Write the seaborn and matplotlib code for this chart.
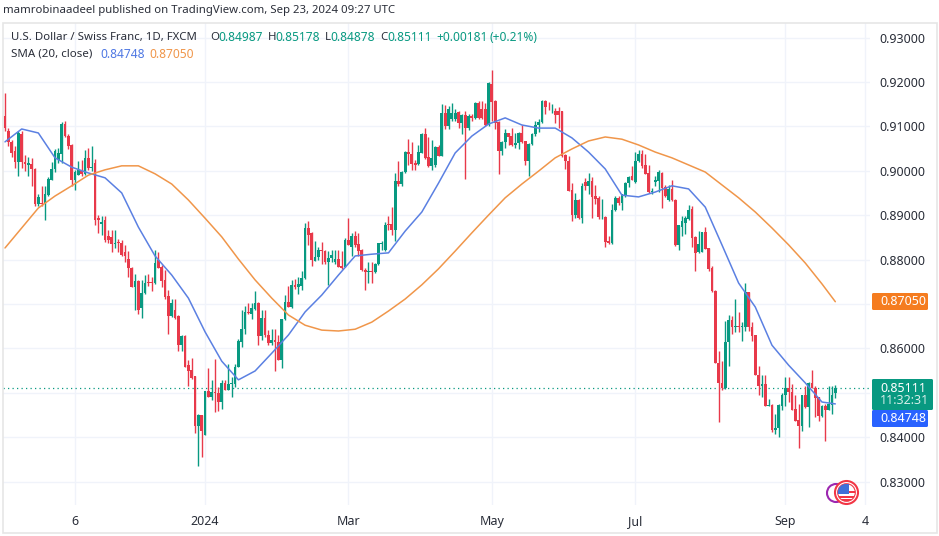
import matplotlib
matplotlib.use("Agg")
import matplotlib.pyplot as plt
from matplotlib.patches import Circle, FancyBboxPatch, Rectangle
import numpy as np
import pandas as pd
import seaborn as sns

# daily USD/CHF candles
opens = [
    .9124, .9090, .9064, .9044, .9019, .9083, .9020, .9013, .9015, .9003,
    .8925, .8928, .8925, .8945, .8980, .9003, .9025, .9037, .9106, .9079,
    .9057, .8978, .8990, .9002, .8993, .9029, .9005, .9017, .8893, .8880,
    .8888, .8852, .8850, .8836, .8838, .8838, .8816, .8802, .8781, .8738,
    .8751, .8690, .8725, .8750, .8748, .8746, .8800, .8783, .8753, .8717,
    .8672, .8687, .8673, .8607, .8627, .8562, .8552, .8537, .8424, .8449,
    .8405, .8503, .8490, .8502, .8500, .8479, .8522, .8505, .8519, .8520,
    .8559, .8614, .8644, .8682, .8678, .8689, .8702, .8627, .8669, .8631,
    .8611, .8618, .8614, .8574, .8666, .8704, .8694, .8742, .8737, .8740,
    .8758, .8871, .8859, .8797, .8805, .8822, .8820, .8795, .8803, .8794,
    .8801, .8785, .8784, .8843, .8828, .8852, .8834, .8821, .8776, .8771,
    .8775, .8771, .8790, .8835, .8822, .8880, .8880, .8866, .8976, .8971,
    .8996, .9042, .9038, .9018, .9016, .9040, .9082, .9030, .9011, .9012,
    .9054, .9034, .9129, .9101, .9116, .9116, .9132, .9107, .9125, .9097,
    .9123, .9119, .9152, .9140, .9140, .9102, .9195, .9157, .9110, .9044,
    .9064, .9084, .9078, .9057, .9063, .9084, .9066, .9021, .9060, .9082,
    .9103, .9110, .9158, .9144, .9134, .9135, .9135, .9134, .9035, .9021,
    .8957, .8901, .8935, .8893, .8974, .8965, .8976, .8942, .8938, .8895,
    .8896, .8841, .8837, .8912, .8939, .8927, .8944, .8972, .8987, .8974,
    .9022, .9038, .9012, .8995, .8952, .8975, .8977, .8995, .8963, .8933,
    .8959, .8935, .8832, .8874, .8882, .8892, .8913, .8850, .8817, .8818,
    .8862, .8826, .8781, .8730, .8566, .8521, .8511, .8614, .8664, .8649,
    .8651, .8647, .8649, .8726, .8649, .8629, .8539, .8515, .8520, .8471,
    .8473, .8415, .8421, .8471, .8494, .8511, .8501, .8464, .8439, .8426,
    .8494, .8467, .8521, .8511, .8490, .8447, .8471, .8461, .8473, .84987,
]
highs = [
    .9175, .9096, .9070, .9055, .9089, .9089, .9036, .9032, .9028, .9005,
    .8948, .8965, .8965, .8986, .9020, .9049, .9051, .9109, .9111, .9083,
    .9060, .9002, .9021, .9025, .9047, .9051, .9055, .9026, .8900, .8897,
    .8897, .8866, .8866, .8866, .8847, .8844, .8832, .8820, .8784, .8768,
    .8753, .8753, .8765, .8768, .8761, .8821, .8817, .8787, .8776, .8732,
    .8712, .8712, .8674, .8631, .8629, .8574, .8579, .8537, .8451, .8450,
    .8503, .8556, .8528, .8577, .8512, .8529, .8528, .8565, .8535, .8565,
    .8620, .8686, .8695, .8702, .8701, .8728, .8705, .8686, .8686, .8641,
    .8644, .8644, .8629, .8666, .8720, .8741, .8753, .8757, .8761, .8775,
    .8883, .8887, .8861, .8841, .8829, .8839, .8822, .8820, .8822, .8822,
    .8822, .8819, .8848, .8893, .8859, .8865, .8859, .8823, .8782, .8795,
    .8795, .8792, .8838, .8841, .8884, .8897, .8919, .8995, .9021, .8999,
    .9044, .9072, .9064, .9024, .9059, .9084, .9097, .9076, .9070, .9055,
    .9057, .9150, .9147, .9146, .9153, .9138, .9134, .9127, .9134, .9127,
    .9127, .9155, .9157, .9157, .9153, .9199, .9226, .9159, .9111, .9067,
    .9095, .9085, .9097, .9085, .9087, .9104, .9067, .9063, .9084, .9112,
    .9117, .9159, .9159, .9155, .9150, .9142, .9144, .9134, .9037, .9034,
    .8972, .8950, .8936, .8972, .8984, .8994, .8986, .8967, .8944, .8937,
    .8897, .8854, .8926, .8942, .8944, .8948, .8974, .8987, .9010, .9042,
    .9047, .9047, .9037, .9012, .8962, .8987, .9001, .8996, .8967, .8967,
    .8978, .8937, .8878, .8899, .8897, .8922, .8920, .8852, .8865, .8862,
    .8873, .8826, .8785, .8732, .8595, .8572, .8662, .8674, .8672, .8711,
    .8681, .8659, .8747, .8726, .8659, .8630, .8561, .8539, .8540, .8486,
    .8475, .8452, .8475, .8499, .8536, .8536, .8520, .8494, .8475, .8495,
    .8516, .8524, .8551, .8514, .8491, .8473, .8475, .8516, .8516, .85178,
]
lows = [
    .9089, .9055, .9032, .9006, .8987, .9005, .9000, .8987, .8965, .8920,
    .8920, .8920, .8890, .8942, .8978, .8997, .9017, .9017, .9075, .9050,
    .8966, .8956, .8990, .8987, .8990, .9002, .9000, .8878, .8860, .8855,
    .8840, .8837, .8817, .8825, .8817, .8807, .8795, .8761, .8738, .8686,
    .8678, .8669, .8723, .8740, .8729, .8744, .8780, .8738, .8712, .8633,
    .8671, .8667, .8594, .8594, .8558, .8514, .8532, .8409, .8334, .8356,
    .8405, .8490, .8483, .8456, .8459, .8464, .8505, .8505, .8490, .8513,
    .8558, .8603, .8633, .8678, .8667, .8686, .8607, .8618, .8626, .8607,
    .8607, .8550, .8573, .8556, .8663, .8692, .8690, .8734, .8723, .8731,
    .8755, .8833, .8786, .8797, .8799, .8790, .8790, .8743, .8795, .8790,
    .8783, .8778, .8783, .8833, .8807, .8829, .8807, .8775, .8731, .8746,
    .8748, .8769, .8788, .8822, .8820, .8867, .8856, .8841, .8966, .8966,
    .8994, .9014, .9001, .9001, .9014, .9039, .9027, .9009, .9001, .9009,
    .9033, .9033, .9093, .9093, .9112, .9112, .9097, .9082, .8981, .9091,
    .9112, .9116, .9117, .9117, .9101, .9101, .9112, .9095, .8992, .9036,
    .9052, .9059, .9055, .9052, .9049, .9063, .9014, .8989, .9057, .9079,
    .9087, .9108, .9127, .9137, .9131, .9107, .9097, .9031, .9003, .8954,
    .8886, .8893, .8891, .8883, .8956, .8948, .8893, .8926, .8892, .8892,
    .8828, .8834, .8835, .8909, .8922, .8912, .8941, .8963, .8978, .8973,
    .9020, .9005, .8992, .8950, .8948, .8965, .8952, .8917, .8941, .8932,
    .8932, .8830, .8822, .8854, .8858, .8890, .8828, .8775, .8815, .8816,
    .8823, .8775, .8727, .8566, .8434, .8505, .8509, .8561, .8632, .8636,
    .8636, .8616, .8640, .8640, .8616, .8539, .8494, .8490, .8469, .8469,
    .8411, .8407, .8401, .8460, .8470, .8479, .8460, .8436, .8375, .8413,
    .8466, .8422, .8511, .8445, .8436, .8445, .8391, .8460, .8451, .84878,
]
closes = [
    .9096, .9064, .9040, .9019, .9085, .9019, .9015, .9017, .9003, .8925,
    .8940, .8925, .8947, .8982, .9003, .9044, .9041, .9106, .9078, .9056,
    .8980, .8996, .9002, .8992, .9029, .9006, .9008, .8889, .8890, .8885,
    .8845, .8843, .8836, .8838, .8837, .8810, .8808, .8781, .8738, .8751,
    .8687, .8725, .8748, .8747, .8747, .8793, .8782, .8752, .8716, .8672,
    .8701, .8669, .8607, .8627, .8559, .8550, .8534, .8424, .8449, .8414,
    .8503, .8490, .8502, .8500, .8479, .8522, .8505, .8519, .8522, .8559,
    .8616, .8644, .8682, .8680, .8690, .8702, .8627, .8669, .8629, .8611,
    .8618, .8615, .8574, .8666, .8704, .8694, .8742, .8737, .8744, .8758,
    .8871, .8856, .8798, .8805, .8822, .8820, .8795, .8803, .8810, .8802,
    .8784, .8780, .8845, .8833, .8852, .8833, .8820, .8776, .8771, .8775,
    .8772, .8790, .8837, .8838, .8878, .8877, .8866, .8976, .8971, .8996,
    .9042, .9038, .9016, .9014, .9042, .9082, .9029, .9010, .9029, .9054,
    .9034, .9129, .9101, .9138, .9131, .9131, .9107, .9125, .9097, .9123,
    .9119, .9152, .9119, .9119, .9102, .9197, .9155, .9108, .9044, .9064,
    .9084, .9076, .9057, .9063, .9084, .9064, .9021, .9061, .9082, .9104,
    .9110, .9158, .9144, .9143, .9135, .9125, .9125, .9033, .9021, .8955,
    .8901, .8935, .8893, .8965, .8965, .8976, .8941, .8937, .8895, .8896,
    .8839, .8837, .8912, .8939, .8927, .8947, .8972, .8986, .8980, .9022,
    .9038, .9010, .8993, .8952, .8954, .8978, .8997, .8962, .8942, .8959,
    .8933, .8832, .8878, .8886, .8894, .8912, .8848, .8814, .8835, .8862,
    .8824, .8779, .8729, .8566, .8521, .8511, .8614, .8664, .8649, .8651,
    .8647, .8651, .8726, .8647, .8627, .8539, .8515, .8520, .8470, .8473,
    .8415, .8421, .8473, .8494, .8511, .8501, .8461, .8437, .8426, .8494,
    .8467, .8521, .8511, .8488, .8447, .8471, .8461, .8475, .8494, .85111,
]

# moving averages, read every 5 bars plus the last bar
sma_bars = list(range(0, 250, 5)) + [249]
sma_fast = [
    .9065, .9094, .9085, .9029, .9008, .8995, .8984, .8950, .8873, .8808,
    .8765, .8713, .8637, .8571, .8529, .8549, .8589, .8630, .8682, .8720,
    .8765, .8808, .8812, .8815, .8864, .8907, .8972, .9040, .9078, .9105,
    .9119, .9103, .9096, .9096, .9074, .9042, .9004, .8945, .8941, .8952,
    .8966, .8959, .8918, .8833, .8747, .8693, .8607, .8562, .8522, .8479,
    .84748,
]
sma_slow = [
    .8826, .8871, .8916, .8943, .8966, .8990, .9002, .9011, .9011, .8993,
    .8970, .8934, .8893, .8851, .8801, .8754, .8713, .8675, .8652, .8641,
    .8639, .8643, .8659, .8684, .8711, .8743, .8779, .8819, .8860, .8900,
    .8939, .8970, .8999, .9029, .9049, .9067, .9076, .9071, .9058, .9042,
    .9029, .9013, .8997, .8968, .8939, .8907, .8871, .8833, .8792, .8745,
    .87050,
]

price_ticks = [.83, .84, .85, .86, .87, .88, .89, .90, .91, .92, .93]
price_labels = ["0.83000", "0.84000", "", "0.86000", "", "0.88000", "0.89000",
                "0.90000", "0.91000", "0.92000", "0.93000"]
time_ticks = [21, 60, 103, 146, 189, 234, 258]
time_labels = ["6", "2024", "Mar", "May", "Jul", "Sep", "4"]

UP = "#089981"
DOWN = "#E8394A"
BLUE = "#5B80E2"
ORANGE = "#F0964A"
TEXT = "#2A2E39"

sns.set_theme(style="white")
plt.rcParams["font.family"] = ["Noto Sans", "DejaVu Sans"]

df = pd.DataFrame({"open": opens, "high": highs, "low": lows, "close": closes})
df["bar"] = np.arange(len(df))
df["color"] = np.where(df["close"] >= df["open"], UP, DOWN)
sma = pd.DataFrame({"bar": sma_bars, "fast": sma_fast, "slow": sma_slow})

W, H = 939, 536
fig = plt.figure(figsize=(W / 100, H / 100), dpi=100)
ax = fig.add_axes([3 / W, 1 - 505 / H, 867 / W, 482 / H])

ax.vlines(df["bar"], df["low"], df["high"], colors=df["color"], lw=1.0, zorder=3)
body = (df["close"] - df["open"]).abs().clip(lower=0.00015)
ax.bar(df["bar"], body, bottom=df[["open", "close"]].min(axis=1), width=0.82,
       color=df["color"], linewidth=0, zorder=3)
sns.lineplot(data=sma, x="bar", y="fast", color=BLUE, lw=1.1, ax=ax, zorder=4)
sns.lineplot(data=sma, x="bar", y="slow", color=ORANGE, lw=1.1, ax=ax, zorder=4)
ax.axhline(closes[-1], color=UP, lw=0.9, ls=(0, (1, 2.6)), zorder=2)

ax.set_xlim(-0.6, 259.4)
ax.set_ylim(.82471, .93327)
ax.set_xlabel("")
ax.set_ylabel("")
ax.yaxis.tick_right()
ax.set_yticks(price_ticks, price_labels)
ax.set_xticks(time_ticks, time_labels)
ax.tick_params(axis="y", length=0, pad=7, labelsize=9, labelcolor=TEXT)
ax.tick_params(axis="x", length=0, pad=7, labelsize=9, labelcolor=TEXT)
ax.get_xticklabels()[1].set_fontweight("bold")
ax.grid(True, color="#F0F3FA", lw=1)
ax.set_axisbelow(True)
sns.despine(ax=ax, left=True, right=True, top=True, bottom=True)

# overlay in pixel coordinates for the header, price boxes and logo
ov = fig.add_axes([0, 0, 1, 1], zorder=5)
ov.set_xlim(0, W)
ov.set_ylim(H, 0)
ov.axis("off")
ov.add_patch(Rectangle((2.5, 22.5), 934, 510, fill=False, ec="#E6E6E6", lw=1.2))

ov.text(3, 11, "mamrobinaadeel published on TradingView.com, Sep 23, 2024 09:27 UTC",
        fontsize=8.2, color=TEXT, va="center")
ov.text(11, 37.5, "U.S. Dollar / Swiss Franc, 1D, FXCM", fontsize=8.2, color=TEXT, va="center")
for key, key_x, val, val_x in [("O", 210, "0.84987", 218), ("H", 267.5, "0.85178", 275),
                               ("L", 325, "0.84878", 330.5), ("C", 380, "0.85111", 387)]:
    ov.text(key_x, 37.5, key, fontsize=8.2, color=TEXT, va="center")
    ov.text(val_x, 37.5, val, fontsize=8.6, color=UP, va="center")
ov.text(436.5, 37.5, "+0.00181", fontsize=8.6, color=UP, va="center")
ov.text(490, 37.5, "(+0.21%)", fontsize=8.6, color=UP, va="center")
ov.text(11, 54.5, "SMA (20, close)", fontsize=8.3, color=TEXT, va="center")
ov.text(100, 54.5, "0.84748", fontsize=8.6, color="#4F78E3", va="center")
ov.text(149, 54.5, "0.87050", fontsize=8.6, color=ORANGE, va="center")


def price_box(x0, y0, x1, y1, color):
    ov.add_patch(FancyBboxPatch((x0 + 1, y0 + 1), x1 - x0 - 2, y1 - y0 - 2,
                                boxstyle="round,pad=1,rounding_size=1.5",
                                fc=color, ec="none"))


price_box(872, 293, 928, 310, "#F57C1F")
price_box(872, 379, 933, 410, UP)
price_box(872, 410, 928, 427, "#2962FF")
ov.text(880, 301.5, "0.87050", color="white", fontsize=9, fontweight="bold", va="center")
ov.text(880, 388, "0.85111", color="white", fontsize=9, fontweight="bold", va="center")
ov.text(880, 401, "11:32:31", color="#D5EEE9", fontsize=9, va="center")
ov.text(880, 418.5, "0.84748", color="white", fontsize=9, fontweight="bold", va="center")

ov.add_patch(Circle((836, 493), 9, fc="white", ec="#9C27B0", lw=1.5))
ov.add_patch(Circle((846.5, 492.5), 11.5, fc="white", ec="#F23645", lw=1.5))
flag = Circle((846.5, 492.5), 8.8, fc="white", ec="#F23645", lw=0.8)
ov.add_patch(flag)
for stripe_y in [491, 495.5, 499]:
    stripe = Rectangle((837, stripe_y), 19, 2.2, fc="#F23645", ec="none")
    ov.add_patch(stripe)
    stripe.set_clip_path(flag)
canton = Rectangle((837, 484), 11.5, 9.5, fc="#3F6FD8", ec="none")
ov.add_patch(canton)
canton.set_clip_path(flag)

fig.savefig("out.png", dpi=100, facecolor="white")
